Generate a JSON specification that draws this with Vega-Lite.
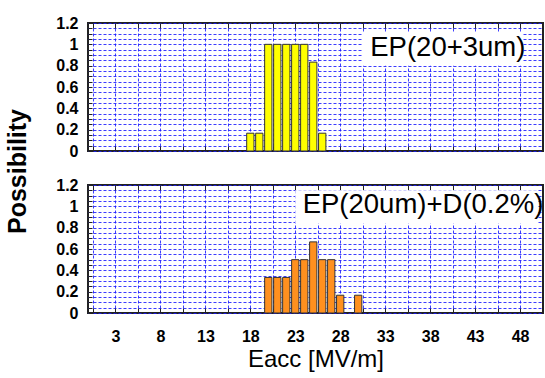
{
  "$schema": "https://vega.github.io/schema/vega-lite/v6.json",
  "datasets": {
    "top": [
      {"eacc": 18, "p": 0.1667}, {"eacc": 19, "p": 0.1667}, {"eacc": 20, "p": 1},
      {"eacc": 21, "p": 1}, {"eacc": 22, "p": 1}, {"eacc": 23, "p": 1},
      {"eacc": 24, "p": 1}, {"eacc": 25, "p": 0.8333}, {"eacc": 26, "p": 0.1667}
    ],
    "bottom": [
      {"eacc": 20, "p": 0.3333}, {"eacc": 21, "p": 0.3333}, {"eacc": 22, "p": 0.3333},
      {"eacc": 23, "p": 0.5}, {"eacc": 24, "p": 0.5}, {"eacc": 25, "p": 0.6667},
      {"eacc": 26, "p": 0.5}, {"eacc": 27, "p": 0.5}, {"eacc": 28, "p": 0.1667},
      {"eacc": 30, "p": 0.1667}
    ],
    "one": [{}]
  },
  "padding": {"left": 4, "top": 14, "right": 0, "bottom": 0},
  "spacing": 34,
  "bounds": "flush",
  "config": {
    "font": "Liberation Sans",
    "view": {"stroke": "#222", "strokeWidth": 2},
    "axis": {
      "domain": false,
      "gridColor": "#1a1aff",
      "gridDash": [3, 2],
      "gridWidth": 1,
      "gridOpacity": 0.85,
      "tickColor": "#222",
      "labelOverlap": false,
      "labelBound": false,
      "labelFlush": false,
      "labelColor": "#000",
      "labelFont": "Liberation Sans",
      "labelFontWeight": "bold",
      "labelFontSize": 16,
      "titleColor": "#000"
    }
  },
  "vconcat": [
    {
      "width": 455,
      "height": 128,
      "resolve": {"axis": {"x": "independent", "y": "independent"}},
      "layer": [
        {
          "data": {"name": "top"},
          "mark": {"type": "bar", "size": 7.3, "fill": "#FFFF00", "stroke": "#333", "strokeWidth": 1},
          "encoding": {
            "x": {
              "field": "eacc", "type": "quantitative",
              "scale": {"domain": [0.5, 50], "nice": false, "zero": false},
              "axis": {
                "orient": "bottom", "title": null, "labels": false, "grid": true,
                "values": [0.5,3,5.5,8,10.5,13,15.5,18,20.5,23,25.5,28,30.5,33,35.5,38,40.5,43,45.5,48],
                "tickSize": -5
              }
            },
            "y": {
              "field": "p", "type": "quantitative",
              "scale": {"domain": [0, 1.2], "nice": false},
              "axis": {
                "values": [0,0.05,0.1,0.15,0.2,0.25,0.3,0.35,0.4,0.45,0.5,0.55,0.6,0.65,0.7,0.75,0.8,0.85,0.9,0.95,1,1.05,1.1,1.15,1.2],
                "labelExpr": "indexof([0,0.2,0.4,0.6,0.8,1,1.2], datum.value) >= 0 ? '' + datum.value : ''",
                "tickSize": -4, "labelPadding": 14, "grid": true,
                "title": "Possibility", "titleFont": "Liberation Sans", "titleFontWeight": "bold", "titleFontSize": 25,
                "titleX": -71, "titleY": 148, "titleBaseline": "middle", "titleAngle": -90
              }
            }
          }
        },
        {
          "data": {"name": "one"},
          "mark": {"type": "rect", "fill": "white"},
          "encoding": {
            "x": {"datum": 30.5, "type": "quantitative", "axis": {"orient": "top", "title": null, "labels": false, "grid": false,
              "values": [0.5,3,5.5,8,10.5,13,15.5,18,20.5,23,25.5,28,30.5,33,35.5,38,40.5,43,45.5,48], "tickSize": -5}},
            "x2": {"datum": 48.3},
            "y": {"datum": 0.8, "type": "quantitative", "axis": null},
            "y2": {"datum": 1.11}
          }
        },
        {
          "data": {"name": "one"},
          "mark": {"type": "text", "text": "EP(20+3um)", "align": "right", "baseline": "middle", "font": "Liberation Sans", "fontSize": 27.5, "color": "#000"},
          "encoding": {
            "x": {"datum": 48.6, "type": "quantitative", "axis": null},
            "y": {"datum": 0.97, "type": "quantitative", "axis": null}
          }
        }
      ]
    },
    {
      "width": 455,
      "height": 128,
      "resolve": {"axis": {"x": "independent", "y": "independent"}},
      "layer": [
        {
          "data": {"name": "bottom"},
          "mark": {"type": "bar", "size": 7.3, "fill": "#FF901F", "stroke": "#333", "strokeWidth": 1},
          "encoding": {
            "x": {
              "field": "eacc", "type": "quantitative",
              "scale": {"domain": [0.5, 50], "nice": false, "zero": false},
              "axis": {
                "orient": "bottom", "grid": true,
                "values": [0.5,3,5.5,8,10.5,13,15.5,18,20.5,23,25.5,28,30.5,33,35.5,38,40.5,43,45.5,48],
                "labelExpr": "indexof([3,8,13,18,23,28,33,38,43,48], datum.value) >= 0 ? '' + datum.value : ''",
                "tickSize": -5, "labelPadding": 20,
                "title": "Eacc [MV/m]", "titleFont": "Liberation Sans", "titleFontWeight": "normal", "titleFontSize": 24, "titlePadding": 3
              }
            },
            "y": {
              "field": "p", "type": "quantitative",
              "scale": {"domain": [0, 1.2], "nice": false},
              "axis": {
                "values": [0,0.05,0.1,0.15,0.2,0.25,0.3,0.35,0.4,0.45,0.5,0.55,0.6,0.65,0.7,0.75,0.8,0.85,0.9,0.95,1,1.05,1.1,1.15,1.2],
                "labelExpr": "indexof([0,0.2,0.4,0.6,0.8,1,1.2], datum.value) >= 0 ? '' + datum.value : ''",
                "tickSize": -4, "labelPadding": 14, "grid": true, "title": null
              }
            }
          }
        },
        {
          "data": {"name": "one"},
          "mark": {"type": "rect", "fill": "white"},
          "encoding": {
            "x": {"datum": 23, "type": "quantitative", "axis": {"orient": "top", "title": null, "labels": false, "grid": false,
              "values": [0.5,3,5.5,8,10.5,13,15.5,18,20.5,23,25.5,28,30.5,33,35.5,38,40.5,43,45.5,48], "tickSize": -5}},
            "x2": {"datum": 50},
            "y": {"datum": 0.84, "type": "quantitative", "axis": null},
            "y2": {"datum": 1.15}
          }
        },
        {
          "data": {"name": "one"},
          "mark": {"type": "text", "text": "EP(20um)+D(0.2%)", "align": "right", "baseline": "middle", "font": "Liberation Sans", "fontSize": 27.5, "color": "#000"},
          "encoding": {
            "x": {"datum": 50.6, "type": "quantitative", "axis": null},
            "y": {"datum": 1.01, "type": "quantitative", "axis": null}
          }
        }
      ]
    }
  ]
}
